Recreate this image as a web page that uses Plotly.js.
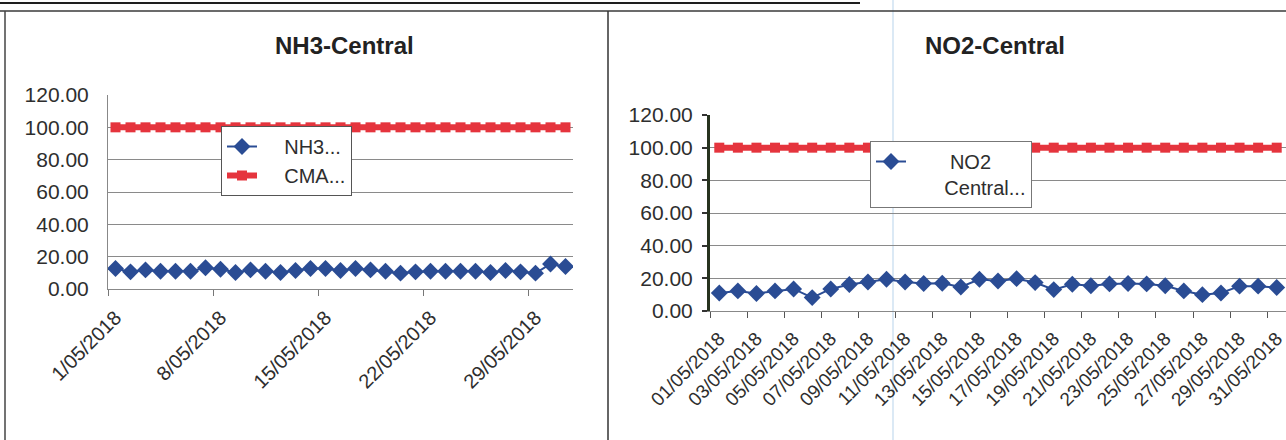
<!DOCTYPE html>
<html>
<head>
<meta charset="utf-8">
<script src="https://cdn.plot.ly/plotly-3.0.1.min.js"></script>
<style>
html,body{margin:0;padding:0;background:#fff;}
#chart{width:1286px;height:440px;}
</style>
</head>
<body>
<div id="chart"></div>
<script>
// ---- data ----
const nh3Dates = ["1/05/2018","2/05/2018","3/05/2018","4/05/2018","5/05/2018","6/05/2018","7/05/2018","8/05/2018","9/05/2018","10/05/2018","11/05/2018","12/05/2018","13/05/2018","14/05/2018","15/05/2018","16/05/2018","17/05/2018","18/05/2018","19/05/2018","20/05/2018","21/05/2018","22/05/2018","23/05/2018","24/05/2018","25/05/2018","26/05/2018","27/05/2018","28/05/2018","29/05/2018","30/05/2018","31/05/2018"];
const nh3Values = [12.7,10.6,11.8,11.0,11.0,11.0,13.1,12.2,10.2,11.8,11.0,10.2,11.4,12.7,12.7,11.4,12.7,11.8,11.0,9.8,10.6,11.0,11.0,11.0,11.0,10.2,11.4,10.6,9.8,15.5,13.9];
const nh3Cma = [100,100,100,100,100,100,100,100,100,100,100,100,100,100,100,100,100,100,100,100,100,100,100,100,100,100,100,100,100,100,100];

const no2Dates = ["01/05/2018","02/05/2018","03/05/2018","04/05/2018","05/05/2018","06/05/2018","07/05/2018","08/05/2018","09/05/2018","10/05/2018","11/05/2018","12/05/2018","13/05/2018","14/05/2018","15/05/2018","16/05/2018","17/05/2018","18/05/2018","19/05/2018","20/05/2018","21/05/2018","22/05/2018","23/05/2018","24/05/2018","25/05/2018","26/05/2018","27/05/2018","28/05/2018","29/05/2018","30/05/2018","31/05/2018"];
const no2Values = [11.0,12.3,10.7,12.3,13.5,8.2,13.5,16.2,17.8,19.4,17.8,16.8,17.0,14.7,19.4,18.4,19.8,17.4,13.1,16.4,15.5,16.6,16.8,16.6,15.5,12.3,10.0,11.0,15.2,15.2,14.4];
const no2Cma = [100,100,100,100,100,100,100,100,100,100,100,100,100,100,100,100,100,100,100,100,100,100,100,100,100,100,100,100,100,100,100];

const titleLeft = "NH3-Central";
const titleRight = "NO2-Central";
const nameNh3 = "NH3...";
const nameCma = "CMA...";
const nameNo2 = "NO2<br>Central...";

// ---- styling ----
const W = 1286, H = 440;
const px = v => v / W;
const py = v => 1 - v / H;
const BLUE = "#2a4c94";
const RED = "#e5343d";
const FONT = "Liberation Sans, Arial, sans-serif";
const TXT = "#2e2e2e";
const pad = n => "&nbsp;".repeat(n);

const traces = [
  {x: nh3Dates, y: nh3Values, xaxis: "x", yaxis: "y", name: pad(4) + nameNh3, legend: "legend",
   mode: "lines+markers", line: {color: BLUE, width: 2}, marker: {symbol: "diamond", size: 13, color: BLUE}},
  {x: nh3Dates, y: nh3Cma, xaxis: "x", yaxis: "y", name: pad(4) + nameCma, legend: "legend",
   mode: "lines+markers", line: {color: RED, width: 6}, marker: {symbol: "square", size: 10, color: RED}},
  {x: no2Dates, y: no2Cma, xaxis: "x2", yaxis: "y2", name: "CMA", showlegend: false,
   mode: "lines+markers", line: {color: RED, width: 6}, marker: {symbol: "square", size: 10, color: RED}},
  {x: no2Dates, y: no2Values, xaxis: "x2", yaxis: "y2", name: pad(7) + "NO2<br>" + pad(6) + "Central...", legend: "legend2",
   mode: "lines+markers", line: {color: BLUE, width: 2}, marker: {symbol: "diamond", size: 13, color: BLUE}}
];

const gridC = "#8a8a8a";
const layout = {
  width: W, height: H,
  margin: {l: 0, r: 0, t: 0, b: 0},
  paper_bgcolor: "#fff", plot_bgcolor: "rgba(0,0,0,0)",
  font: {family: FONT, color: TXT},
  xaxis: {
    domain: [px(108), px(573)], anchor: "y", type: "category",
    categoryorder: "array", categoryarray: nh3Dates, range: [-0.5, 30.5],
    tickmode: "linear", tick0: 0, dtick: 7, tickson: "boundaries",
    ticks: "outside", ticklen: 6, tickcolor: "#777", showgrid: false,
    showline: true, linecolor: "#888", linewidth: 1, zeroline: false,
    tickangle: -45, tickfont: {size: 20, color: TXT}, ticklabelstandoff: 8
  },
  yaxis: {
    domain: [py(289), py(95)], anchor: "x", range: [0, 120], dtick: 20, tickformat: ".2f",
    showgrid: true, gridcolor: gridC, gridwidth: 1, zeroline: false,
    showline: true, linecolor: "#888", linewidth: 1, ticks: "",
    tickfont: {size: 21, color: TXT}, ticklabelstandoff: 14
  },
  xaxis2: {
    domain: [px(710), 1], anchor: "y2", type: "category",
    categoryorder: "array", categoryarray: no2Dates, range: [-0.5, 30.5],
    tickmode: "linear", tick0: 0, dtick: 2, tickson: "boundaries",
    ticks: "outside", ticklen: 6, tickcolor: "#555", showgrid: false,
    showline: true, linecolor: "#888", linewidth: 1, zeroline: false,
    tickangle: -45, tickfont: {size: 19, color: TXT}, ticklabelstandoff: 8
  },
  yaxis2: {
    domain: [py(311), py(115)], anchor: "x2", range: [0, 120], dtick: 20, tickformat: ".2f",
    showgrid: true, gridcolor: gridC, gridwidth: 1, zeroline: false,
    showline: true, linecolor: "#27331f", linewidth: 3,
    ticks: "outside", ticklen: 5, tickwidth: 2, tickcolor: "#333",
    tickfont: {size: 21, color: TXT}, ticklabelstandoff: 5
  },
  legend: {
    x: px(221), y: py(126), xanchor: "left", yanchor: "top",
    bgcolor: "#fff", bordercolor: "#555", borderwidth: 1,
    font: {size: 20, color: TXT}, tracegroupgap: 0, itemwidth: 30
  },
  legend2: {
    x: px(870), y: py(141), xanchor: "left", yanchor: "top",
    bgcolor: "#fff", bordercolor: "#777", borderwidth: 1, valign: "top",
    font: {size: 20, color: TXT}, itemwidth: 30
  },
  showlegend: true,
  annotations: [
    {text: "<b>" + titleLeft + "</b>", x: px(344), y: py(46), xref: "paper", yref: "paper",
     xanchor: "center", yanchor: "middle", showarrow: false, font: {size: 24, color: "#222", family: FONT}},
    {text: "<b>" + titleRight + "</b>", x: px(995), y: py(46), xref: "paper", yref: "paper",
     xanchor: "center", yanchor: "middle", showarrow: false, font: {size: 24, color: "#222", family: FONT}}
  ],
  shapes: [
    {type: "line", xref: "paper", yref: "paper", x0: 0, x1: px(860), y0: py(3), y1: py(3), line: {color: "#1e1e1e", width: 2}},
    {type: "line", xref: "paper", yref: "paper", x0: 0, x1: 1, y0: py(11), y1: py(11), line: {color: "#3a3a3a", width: 1.5}},
    {type: "line", xref: "paper", yref: "paper", x0: px(5), x1: px(5), y0: py(11), y1: 0, line: {color: "#444", width: 1.5}},
    {type: "line", xref: "paper", yref: "paper", x0: px(608), x1: px(608), y0: py(11), y1: 0, line: {color: "#333", width: 1.5}},
    {type: "line", xref: "paper", yref: "paper", x0: px(893), x1: px(893), y0: 1, y1: 0, line: {color: "#cfe2f2", width: 1.5}, layer: "below"}
  ]
};

Plotly.newPlot("chart", traces, layout, {displayModeBar: false, staticPlot: true});
</script>
</body>
</html>
